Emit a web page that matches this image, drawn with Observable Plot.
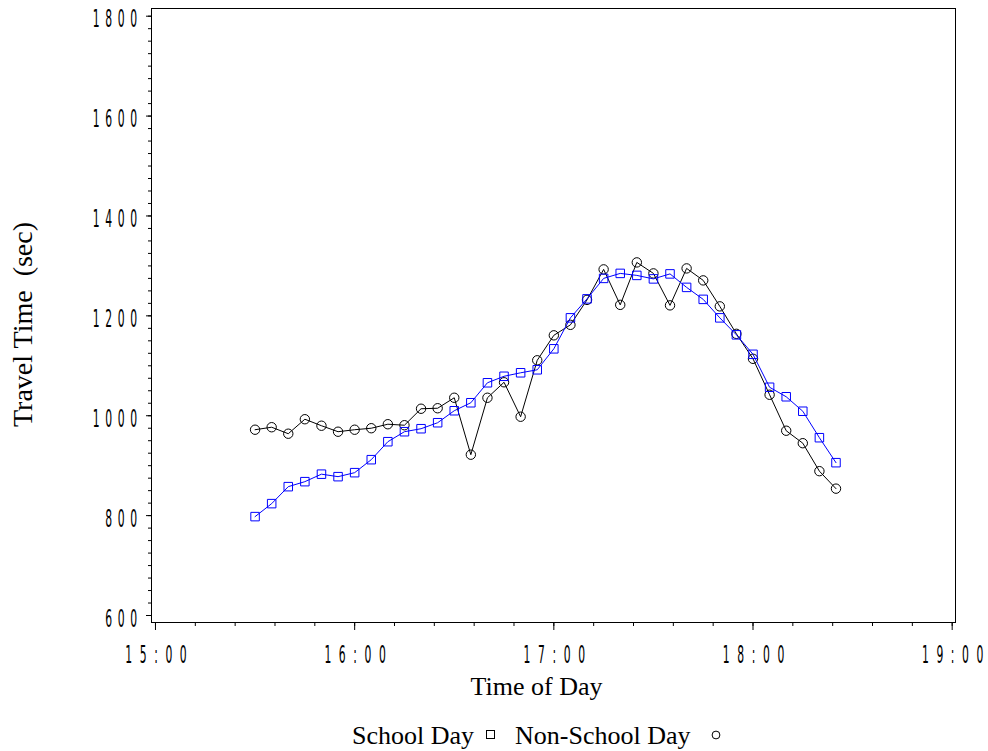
<!DOCTYPE html>
<html><head><meta charset="utf-8">
<script src="https://cdn.jsdelivr.net/npm/d3@7"></script>
<script src="https://cdn.jsdelivr.net/npm/@observablehq/plot@0.6"></script>
<style>
body{margin:0;background:#fff;}
#chart{position:absolute;left:0;top:0;}
#chart text{white-space:pre;}
g[aria-label="y-axis tick label"]{letter-spacing:12.4px;}
g[aria-label="x-axis tick label"]{letter-spacing:16.9px;}
#legend{position:absolute;left:352px;top:718px;font-family:"Liberation Serif","Times New Roman",serif;font-size:26px;line-height:36px;white-space:nowrap;color:#000;display:flex;align-items:flex-start;}
#legend svg{display:block;margin-top:11px;}
</style></head><body>
<div id="chart"></div>
<div id="legend"><span>School Day</span><svg width="10" height="12" style="margin-left:12px"><rect x="0.5" y="1.5" width="8" height="8" fill="none" stroke="#000" stroke-width="1"/></svg><span style="margin-left:19px">Non-School Day</span><svg width="10" height="12" style="margin-left:20px"><circle cx="5" cy="6" r="3.9" fill="none" stroke="#000" stroke-width="1"/></svg></div>
<script>
const times = ["15:30","15:35","15:40","15:45","15:50","15:55","16:00","16:05","16:10","16:15",
  "16:20","16:25","16:30","16:35","16:40","16:45","16:50","16:55","17:00","17:05",
  "17:10","17:15","17:20","17:25","17:30","17:35","17:40","17:45","17:50","17:55",
  "18:00","18:05","18:10","18:15","18:20","18:25"];
const schoolDay = [798,824,858,868,883,878,886,912,948,968,
  974,986,1010,1026,1066,1079,1086,1092,1134,1196,
  1234,1275,1285,1281,1274,1284,1257,1233,1196,1162,
  1123,1057,1038,1009,956,906];
const nonSchoolDay = [972,977,964,993,980,968,972,975,983,981,
  1014,1015,1036,922,1036,1067,998,1111,1161,1182,
  1232,1293,1222,1307,1285,1221,1295,1271,1219,1164,
  1114,1042,970,945,889,854];
const xTickLabels = ["15:00","16:00","17:00","18:00","19:00"];
const yTicks = [600,800,1000,1200,1400,1600,1800];

const toMin = s => { const [h, m] = s.split(":").map(Number); return h * 60 + m; };
const xTicks = xTickLabels.map(toMin);
const fmtX = m => xTickLabels[xTicks.indexOf(m)] ?? "";
const minorX = d3.range(xTicks[0], xTicks[xTicks.length - 1] + 1, 12);
const minorY = d3.range(yTicks[0], yTicks[yTicks.length - 1] + 1, 25);

const school = times.map((t, i) => ({t: toMin(t), v: schoolDay[i]}));
const nonSchool = times.map((t, i) => ({t: toMin(t), v: nonSchoolDay[i]}));

const tickFont = "'DejaVu Sans',sans-serif";
const serif = "'Liberation Serif','Times New Roman',serif";
const blank = () => "";

const chart = Plot.plot({
  width: 988, height: 708,
  marginLeft: 151, marginRight: 33, marginTop: 8, marginBottom: 86,
  style: {background: "#fff", color: "#000"},
  x: {domain: [898.8, 1141.0]},
  y: {domain: [586, 1815.4]},
  marks: [
    Plot.frame({stroke: "#000", strokeWidth: 1}),
    Plot.axisY(minorY, {tickSize: 3, tickFormat: blank, label: null}),
    Plot.axisY(yTicks, {tickSize: 5, tickPadding: 9.5, tickFormat: d => String(d), label: null, fontSize: 24, fontFamily: tickFont}),
    Plot.axisX(minorX, {tickSize: 4, tickFormat: blank, label: null}),
    Plot.axisX(xTicks, {tickSize: 8, tickPadding: 15.4, tickFormat: fmtX, label: null, fontSize: 24, fontFamily: tickFont}),
    Plot.line(nonSchool, {x: "t", y: "v", stroke: "#000", strokeWidth: 1}),
    Plot.dot(nonSchool, {x: "t", y: "v", symbol: "circle", r: 4.7, stroke: "#000", fill: "none", strokeWidth: 1}),
    Plot.line(school, {x: "t", y: "v", stroke: "#0000ff", strokeWidth: 1}),
    Plot.dot(school, {x: "t", y: "v", symbol: "square", r: 4.8, stroke: "#0000ff", fill: "none", strokeWidth: 1}),
    Plot.text(["Travel Time\u00a0\u00a0(sec)"], {frameAnchor: "left", rotate: -90, dx: -128, dy: 9, textAnchor: "middle", lineAnchor: "middle", fontSize: 28, fontFamily: serif, fill: "#000"}),
    Plot.text(["Time of Day"], {frameAnchor: "bottom", dx: -17, dy: 64, textAnchor: "middle", lineAnchor: "middle", fontSize: 26, fontFamily: serif, fill: "#000"})
  ]
});

// narrow, tall, widely spaced tick-label glyphs like the original SAS font
function squeeze(selector, ox, oy) {
  chart.querySelectorAll(selector).forEach(t => {
    const s = t.textContent;
    if (s.length > 1) {
      t.textContent = s.slice(0, -1);
      const last = document.createElementNS("http://www.w3.org/2000/svg", "tspan");
      last.setAttribute("style", "letter-spacing:0");
      last.textContent = s.slice(-1);
      t.append(last);
    }
    const tr = t.getAttribute("transform") || "";
    t.setAttribute("transform", `translate(${ox},${oy}) ${tr} scale(0.45,1)`);
  });
}
squeeze('g[aria-label="y-axis tick label"] text', 0, 3.6);
squeeze('g[aria-label="x-axis tick label"] text', 0.5, 0);
document.getElementById("chart").append(chart);
</script>
</body></html>
